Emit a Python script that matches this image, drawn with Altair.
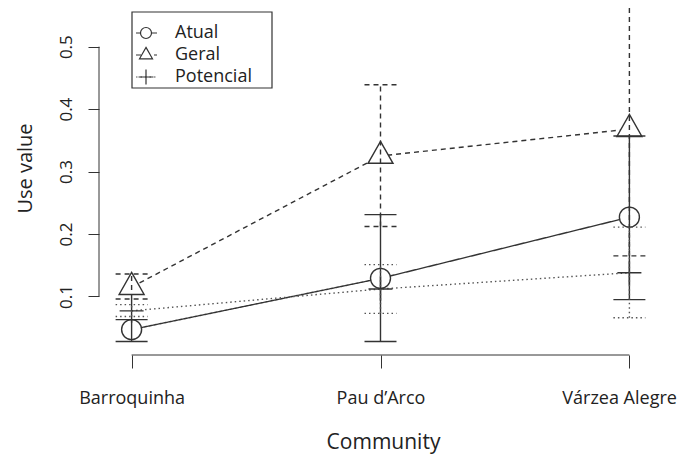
import altair as alt
import pandas as pd

communities = ["Barroquinha", "Pau d\u2019Arco", "V\u00e1rzea Alegre"]
series = ["Atual", "Geral", "Potencial"]

atual_mean = [0.047, 0.129, 0.227]
atual_lo = [0.028, 0.028, 0.095]
atual_hi = [0.063, 0.231, 0.357]

geral_mean = [0.115, 0.325, 0.368]
geral_lo = [0.096, 0.212, 0.165]
geral_hi = [0.136, 0.439, 0.570]

pot_mean = [0.077, 0.112, 0.138]
pot_lo = [0.068, 0.073, 0.066]
pot_hi = [0.087, 0.151, 0.211]

y_ticks = [0.1, 0.2, 0.3, 0.4, 0.5]

W, H = 563, 347
FONT = "Open Sans"
INK = "#333333"
TXT = "#222222"

means = {"Atual": atual_mean, "Geral": geral_mean, "Potencial": pot_mean}
los = {"Atual": atual_lo, "Geral": geral_lo, "Potencial": pot_lo}
his = {"Atual": atual_hi, "Geral": geral_hi, "Potencial": pot_hi}

rows = []
for s in series:
    for i, c in enumerate(communities):
        rows.append({"community": c, "series": s, "mean": means[s][i],
                     "lo": los[s][i], "hi": his[s][i]})
df = pd.DataFrame(rows)

dash = {"Atual": [1, 0], "Geral": [5, 4], "Potencial": [1.5, 3]}
dcol = {"Atual": INK, "Geral": INK, "Potencial": "#555555"}
shape = {
    "Atual": "circle",
    "Geral": "M0,-1.173L1,0.587L-1,0.587Z",
    "Potencial": "M-1,0L1,0M0,-1L0,1",
}
msize = {"Atual": 400, "Geral": 625, "Potencial": 576}
lsize = {"Atual": 121, "Geral": 169, "Potencial": 225}

xscale = alt.Scale(type="point", domain=communities, padding=0.131)
yscale = alt.Scale(domain=[0.0063, 0.5619], nice=False, zero=False)

last_test = "datum.value == '%s'" % communities[-1]
xaxis = alt.Axis(title="Community", domain=False, grid=False,
                 tickSize=13, tickColor=INK, tickWidth=1,
                 labelAngle=0, labelFontSize=18, labelFont=FONT,
                 labelColor=TXT, labelBaseline="alphabetic",
                 labelAlign={"condition": {"test": last_test, "value": "right"},
                             "value": "center"},
                 labelOffset={"condition": {"test": last_test, "value": 47},
                              "value": 0},
                 labelPadding=35, labelOverlap=False, labelBound=False,
                 titleFont=FONT, titleFontSize=21,
                 titleFontWeight="normal", titleColor=TXT,
                 titleBaseline="alphabetic", titleX=284, titleY=93,
                 titleAlign="center")
yaxis = alt.Axis(title="Use value", values=y_ticks, domain=False,
                 grid=False, tickSize=11, tickColor=INK, tickWidth=1,
                 labelAngle=270, labelAlign="center",
                 labelBaseline="alphabetic", labelPadding=17,
                 labelFontSize=17, labelFont=FONT, labelColor=TXT,
                 format=".1f", titleFont=FONT, titleFontSize=20,
                 titleFontWeight="normal", titleColor=TXT,
                 titleAngle=270, titleBaseline="alphabetic",
                 titleAlign="center", titleX=-68, titleY=160)


def xenc(field="community:N"):
    return alt.X(field, scale=xscale, axis=xaxis, title="Community")


def yenc(field):
    return alt.Y(field, scale=yscale, axis=yaxis, title="Use value")


base = alt.Chart(df)
layers = []

# connecting lines
for s in series:
    layers.append(base.transform_filter(alt.datum.series == s).mark_line(
        color=dcol[s], strokeWidth=1.4, strokeDash=dash[s], clip=True
    ).encode(x=xenc(), y=yenc("mean:Q"), order=alt.Order("mean:Q")))

# markers
for s in series:
    layers.append(base.transform_filter(alt.datum.series == s).mark_point(
        shape=shape[s], size=msize[s], filled=False, fill="white",
        fillOpacity=1, stroke=INK, strokeWidth=1.4, opacity=1
    ).encode(x=xenc(), y=yenc("mean:Q")))

# error bars
for s in series:
    f = base.transform_filter(alt.datum.series == s)
    layers.append(f.mark_rule(color=dcol[s], strokeWidth=1.4,
                              strokeDash=dash[s], clip=True).encode(
        x=xenc(), y=yenc("lo:Q"), y2="hi:Q"))
    for end in ["lo", "hi"]:
        layers.append(f.mark_rule(color=dcol[s], strokeWidth=1.4,
                                  strokeDash=dash[s], clip=True,
                                  xOffset=-16, x2Offset=16).encode(
            x=xenc(), x2="community:N", y=yenc(f"{end}:Q")))

# axis lines (R style, spanning first to last tick)
ax_df = pd.DataFrame({"lo": [y_ticks[0]], "hi": [y_ticks[-1]],
                      "a": [communities[0]], "b": [communities[-1]]})
layers.append(alt.Chart(ax_df).mark_rule(color=INK, strokeWidth=1).encode(
    x=alt.value(0), y=yenc("lo:Q"), y2="hi:Q"))
layers.append(alt.Chart(ax_df).mark_rule(color=INK, strokeWidth=1).encode(
    y=alt.value(H), x=xenc("a:N"), x2="b:N"))

# legend box
one = pd.DataFrame({"k": [0]})
layers.append(alt.Chart(one).mark_rect(fill="white", stroke=INK,
                                       strokeWidth=1.2).encode(
    x=alt.value(33), x2=alt.value(173), y=alt.value(4), y2=alt.value(80)))
for i, s in enumerate(series):
    yy = 25 + 22 * i
    sd = pd.DataFrame({"label": [s]})
    layers.append(alt.Chart(sd).mark_rule(color=dcol[s], strokeWidth=1.2,
                                          strokeDash=dash[s]).encode(
        x=alt.value(37), x2=alt.value(58), y=alt.value(yy)))
    layers.append(alt.Chart(sd).mark_point(
        shape=shape[s], size=lsize[s], filled=False, fill="white",
        fillOpacity=1, stroke=INK, strokeWidth=1.2, opacity=1).encode(
        x=alt.value(47), y=alt.value(yy)))
    layers.append(alt.Chart(sd).mark_text(
        align="left", baseline="middle", font=FONT, fontSize=18,
        color=TXT).encode(
        x=alt.value(76), y=alt.value(yy), text="label:N"))

chart = alt.layer(*layers).properties(
    width=W, height=H,
    padding={"left": 91, "top": 0, "right": 15, "bottom": 99},
    autosize=alt.AutoSizeParams(type="none"),
    background="white",
).configure_view(stroke=None)

chart.save("out.html", embed_options={"renderer": "svg", "actions": False})
